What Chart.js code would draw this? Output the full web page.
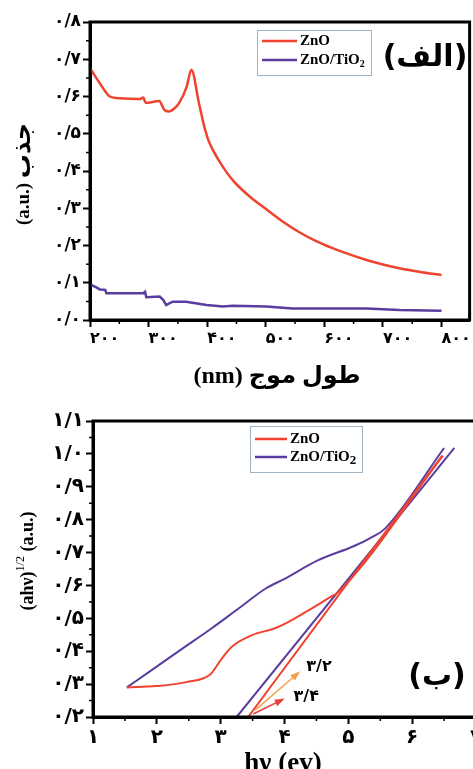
<!DOCTYPE html>
<html lang="fa">
<head>
<meta charset="UTF-8" />
<title>جذب و نمودار تاک ZnO و ZnO/TiO2</title>
<script src="https://cdn.jsdelivr.net/npm/chart.js"></script>
<style>
  html, body { margin: 0; padding: 0; background: #fff; overflow: hidden; }
  #wrap { position: relative; width: 473px; height: 769px; overflow: hidden; }
  #topChart { position: absolute; left: 0; top: 0; }
  #botChart { position: absolute; left: 0; top: 400px; }
</style>
</head>
<body>
<div id="wrap">
  <canvas id="topChart" width="473" height="400"></canvas>
  <canvas id="botChart" width="486" height="369"></canvas>
</div>

<script>
// --- (الف) absorbance vs wavelength
const wlZnO  = [200, 217, 234, 251, 285, 291, 295, 318, 327, 334, 344, 352, 365, 373, 386, 395, 402, 412, 422, 433, 444, 456, 473, 501, 530, 558, 586, 614, 643, 672, 700, 728, 764, 800];
const absZnO = [0.676, 0.635, 0.600, 0.595, 0.593, 0.597, 0.583, 0.588, 0.564, 0.560, 0.568, 0.582, 0.626, 0.672, 0.582, 0.520, 0.483, 0.450, 0.423, 0.397, 0.375, 0.355, 0.331, 0.297, 0.263, 0.235, 0.212, 0.193, 0.176, 0.161, 0.149, 0.139, 0.129, 0.121];
const wlZT   = [200, 210, 217, 226, 228, 291, 294, 296, 319, 325, 330, 341, 364, 399, 427, 444, 501, 546, 614, 672, 728, 800];
const absZT  = [0.096, 0.088, 0.082, 0.081, 0.072, 0.072, 0.076, 0.061, 0.063, 0.054, 0.040, 0.049, 0.049, 0.040, 0.036, 0.038, 0.036, 0.031, 0.031, 0.031, 0.027, 0.025];
const wlTicks  = [200, 300, 400, 500, 600, 700, 800];
const absTicks = [0, 0.1, 0.2, 0.3, 0.4, 0.5, 0.6, 0.7, 0.8];

// --- (ب) Tauc plot
const hvZnO  = [1.53, 1.99, 2.46, 2.84, 3.00, 3.17, 3.48, 3.85, 4.05, 4.32, 4.72, 4.83, 6.48];
const tzZnO  = [0.290, 0.294, 0.306, 0.330, 0.373, 0.413, 0.448, 0.470, 0.488, 0.518, 0.565, 0.578, 0.995];
const hvZT   = [1.53, 1.93, 2.40, 2.86, 3.28, 3.70, 4.00, 4.52, 5.09, 5.35, 5.57, 6.50];
const tzZT   = [0.290, 0.344, 0.408, 0.470, 0.530, 0.590, 0.620, 0.676, 0.720, 0.745, 0.772, 1.018];
const fitHvZnO = [3.43, 6.47];
const fitZnO   = [0.200, 0.995];
const fitHvZT  = [3.25, 6.66];
const fitZT    = [0.200, 1.018];
const gapValues   = [3.2, 3.4];
const gapColors   = ['#f2a24e', '#e8403a'];
const arrowHvFrom = [3.54, 3.51];
const arrowFrom   = [0.221, 0.209];
const arrowHvTo   = [4.21, 3.96];
const arrowTo     = [0.333, 0.252];
const gapLabelHv  = [4.54, 4.34];
const gapLabelY   = [0.352, 0.261];
const hvTicks  = [1, 2, 3, 4, 5, 6, 7];
const tzTicks  = [0.2, 0.3, 0.4, 0.5, 0.6, 0.7, 0.8, 0.9, 1.0, 1.1];

const RED = '#ef4330';
const PURPLE = '#5a3d9e';
const FA = '"DejaVu Sans", sans-serif';
const SERIF = '"Liberation Serif", "DejaVu Sans", serif';

const toFa = s => String(s).replace(/\d/g, d => '۰۱۲۳۴۵۶۷۸۹'[d]).replace('.', '/');
const pts = (xs, ys) => xs.map((v, i) => ({ x: v, y: ys[i] }));
const range = (a, b, step) => { const r = []; for (let v = a; v <= b + 1e-9; v += step) r.push(+v.toFixed(3)); return r; };

function drawLegend(ctx, lg) {
  ctx.strokeStyle = '#9fb3c3';
  ctx.lineWidth = 1;
  ctx.strokeRect(lg.x + 0.5, lg.y + 0.5, lg.w, lg.h);
  lg.items.forEach((it, i) => {
    const yy = lg.rows[i];
    ctx.strokeStyle = it.color;
    ctx.lineWidth = 2.5;
    ctx.beginPath(); ctx.moveTo(lg.x + 5, yy); ctx.lineTo(lg.x + lg.lineW, yy); ctx.stroke();
    ctx.fillStyle = '#000';
    ctx.textBaseline = 'middle';
    ctx.textAlign = 'left';
    ctx.font = 'bold ' + lg.size + 'px ' + SERIF;
    const tx = lg.x + lg.lineW + 3;
    ctx.fillText(it.label, tx, yy);
    if (it.sub) {
      const w = ctx.measureText(it.label).width;
      ctx.font = 'bold ' + lg.subSize + 'px ' + SERIF;
      ctx.fillText(it.sub, tx + w, yy + 4);
    }
  });
}

const deco = {
  id: 'deco',
  afterDatasetsDraw(chart, args, o) {
    const { ctx } = chart;
    ctx.save();
    chart.data.datasets.forEach((ds, i) => {
      if (!ds.arrow) return;
      const d = chart.getDatasetMeta(i).data;
      const p0 = d[d.length - 2], p1 = d[d.length - 1];
      const ang = Math.atan2(p1.y - p0.y, p1.x - p0.x);
      ctx.fillStyle = ds.borderColor;
      ctx.beginPath();
      ctx.moveTo(p1.x + 3 * Math.cos(ang), p1.y + 3 * Math.sin(ang));
      ctx.lineTo(p1.x - 7 * Math.cos(ang) - 3.5 * Math.sin(ang), p1.y - 7 * Math.sin(ang) + 3.5 * Math.cos(ang));
      ctx.lineTo(p1.x - 7 * Math.cos(ang) + 3.5 * Math.sin(ang), p1.y - 7 * Math.sin(ang) - 3.5 * Math.cos(ang));
      ctx.closePath();
      ctx.fill();
    });
    ctx.restore();
  },
  afterDraw(chart, args, o) {
    const { ctx, chartArea: a, scales: { x, y } } = chart;
    ctx.save();
    ctx.strokeStyle = '#000';
    ctx.lineWidth = 3;
    ctx.strokeRect(a.left, a.top, a.right - a.left, a.bottom - a.top);
    // minor ticks
    ctx.lineWidth = 1.5;
    ctx.beginPath();
    o.minorX.forEach(v => { const px = x.getPixelForValue(v); ctx.moveTo(px, a.bottom); ctx.lineTo(px, a.bottom + 4); });
    o.minorY.forEach(v => { const py = y.getPixelForValue(v); ctx.moveTo(a.left, py); ctx.lineTo(a.left - 4, py); });
    ctx.stroke();

    drawLegend(ctx, o.legend);

    // panel label
    ctx.fillStyle = '#000';
    ctx.textAlign = 'center';
    ctx.textBaseline = 'middle';
    ctx.font = 'bold 30px ' + FA;
    ctx.fillText(o.panel.text, o.panel.x, o.panel.y);

    // gap labels
    (o.gapLabels || []).forEach(g => {
      ctx.font = 'bold 16px ' + FA;
      ctx.fillText(g.text, x.getPixelForValue(g.x), y.getPixelForValue(g.y));
    });

    // x title
    ctx.font = o.xTitle.font;
    ctx.textBaseline = o.xTitle.baseline || 'middle';
    ctx.fillText(o.xTitle.text, o.xTitle.x, o.xTitle.y);

    // y title (rotated)
    ctx.translate(o.yTitle.x, o.yTitle.y);
    ctx.rotate(-Math.PI / 2);
    ctx.textBaseline = 'middle';
    ctx.textAlign = 'left';
    const parts = o.yTitle.parts;
    const widths = parts.map(p => { ctx.font = p.font; return ctx.measureText(p.text).width; });
    let cx = -widths.reduce((s, w) => s + w, 0) / 2;
    parts.forEach((p, i) => {
      ctx.font = p.font;
      ctx.fillText(p.text, cx, p.dy || 0);
      cx += widths[i];
    });
    ctx.restore();
  }
};

const axisCommon = (size) => ({
  type: 'linear',
  border: { display: true, color: '#000', width: 3 },
  grid: { drawOnChartArea: false, drawTicks: true, tickLength: 7, tickWidth: 2, tickColor: '#000' },
  ticks: { color: '#000', font: { family: FA, size: size, weight: 'bold' }, padding: 2 }
});

// ---------- top chart
new Chart(document.getElementById('topChart'), {
  type: 'line',
  data: {
    datasets: [
      { label: 'ZnO', data: pts(wlZnO, absZnO), borderColor: RED, borderWidth: 2.5, pointRadius: 0, cubicInterpolationMode: 'monotone' },
      { label: 'ZnO/TiO2', data: pts(wlZT, absZT), borderColor: PURPLE, borderWidth: 2.5, pointRadius: 0, tension: 0 }
    ]
  },
  options: {
    responsive: false,
    animation: false,
    layout: { padding: { top: 22, right: 3, left: 0, bottom: 0 } },
    plugins: {
      legend: { display: false },
      tooltip: { enabled: false },
      deco: {
        minorX: range(250, 800, 100),
        minorY: range(0.05, 0.75, 0.1),
        legend: { x: 257, y: 30, w: 114, h: 45, lineW: 40, rows: [41, 60], size: 15, subSize: 10,
          items: [{ label: 'ZnO', color: RED }, { label: 'ZnO/TiO', sub: '2', color: PURPLE }] },
        panel: { text: '(الف)', x: 425, y: 58 },
        xTitle: { text: '(nm) طول موج', x: 277, y: 377, font: 'bold 24px ' + SERIF },
        yTitle: { x: 24, y: 174, parts: [
          { text: '(a.u.) ', font: 'bold 19px ' + SERIF },
          { text: 'جذب', font: 'bold 24px ' + FA }
        ] }
      }
    },
    scales: {
      x: Object.assign(axisCommon(16), {
        min: 200, max: 848,
        afterBuildTicks: s => { s.ticks = wlTicks.map(v => ({ value: v })); },
        afterFit: s => { s.height = 80; }
      }),
      y: Object.assign(axisCommon(17), {
        min: 0, max: 0.8,
        afterBuildTicks: s => { s.ticks = absTicks.map(v => ({ value: v })); },
        afterFit: s => { s.width = 90; }
      })
    }
  },
  plugins: [deco]
});
Chart.getChart('topChart').options.scales.x.ticks.align = 'start';
Chart.getChart('topChart').options.scales.x.ticks.callback = v => toFa(v);
Chart.getChart('topChart').options.scales.y.ticks.callback = v => toFa(v.toFixed(1));
Chart.getChart('topChart').update();

// ---------- bottom chart
const arrowSets = gapValues.map((g, i) => ({
  label: 'arrow ' + g,
  arrow: true,
  data: pts([arrowHvFrom[i], arrowHvTo[i]], [arrowFrom[i], arrowTo[i]]),
  borderColor: gapColors[i], borderWidth: 1.5, pointRadius: 0
}));

new Chart(document.getElementById('botChart'), {
  type: 'line',
  data: {
    datasets: [
      { label: 'ZnO', data: pts(hvZnO, tzZnO), borderColor: RED, borderWidth: 2, pointRadius: 0, cubicInterpolationMode: 'monotone' },
      { label: 'ZnO fit', data: pts(fitHvZnO, fitZnO), borderColor: RED, borderWidth: 2, pointRadius: 0 },
      { label: 'ZnO/TiO2 fit', data: pts(fitHvZT, fitZT), borderColor: PURPLE, borderWidth: 2, pointRadius: 0 },
      { label: 'ZnO/TiO2', data: pts(hvZT, tzZT), borderColor: PURPLE, borderWidth: 2, pointRadius: 0, cubicInterpolationMode: 'monotone' },
      ...arrowSets
    ]
  },
  options: {
    responsive: false,
    animation: false,
    layout: { padding: { top: 21, right: 1, left: 0, bottom: 0 } },
    plugins: {
      legend: { display: false },
      tooltip: { enabled: false },
      deco: {
        minorX: range(1.5, 6.5, 1),
        minorY: range(0.25, 1.05, 0.1),
        legend: { x: 250, y: 26, w: 112, h: 46, lineW: 37, rows: [39, 57], size: 15, subSize: 13,
          items: [{ label: 'ZnO', color: RED }, { label: 'ZnO/TiO', sub: '2', color: PURPLE }] },
        panel: { text: '(ب)', x: 437, y: 277 },
        gapLabels: gapValues.map((g, i) => ({ text: toFa(g), x: gapLabelHv[i], y: gapLabelY[i] })),
        xTitle: { text: 'hν (ev)', x: 283, y: 371, baseline: 'alphabetic', font: 'bold 27px ' + SERIF },
        yTitle: { x: 28, y: 161, parts: [
          { text: '(ahν)', font: 'bold 18px ' + SERIF },
          { text: '1/2', font: '12px ' + SERIF, dy: -7 },
          { text: ' (a.u.)', font: 'bold 18px ' + SERIF }
        ] }
      }
    },
    scales: {
      x: Object.assign(axisCommon(20), {
        min: 1, max: 7.14,
        afterBuildTicks: s => { s.ticks = hvTicks.map(v => ({ value: v })); },
        afterFit: s => { s.height = 52; }
      }),
      y: Object.assign(axisCommon(20), {
        min: 0.2, max: 1.1,
        afterBuildTicks: s => { s.ticks = tzTicks.map(v => ({ value: v })); },
        afterFit: s => { s.width = 93; }
      })
    }
  },
  plugins: [deco]
});
Chart.getChart('botChart').options.scales.x.ticks.callback = v => toFa(v);
Chart.getChart('botChart').options.scales.y.ticks.callback = v => toFa(v.toFixed(1));
Chart.getChart('botChart').update();
</script>
</body>
</html>
